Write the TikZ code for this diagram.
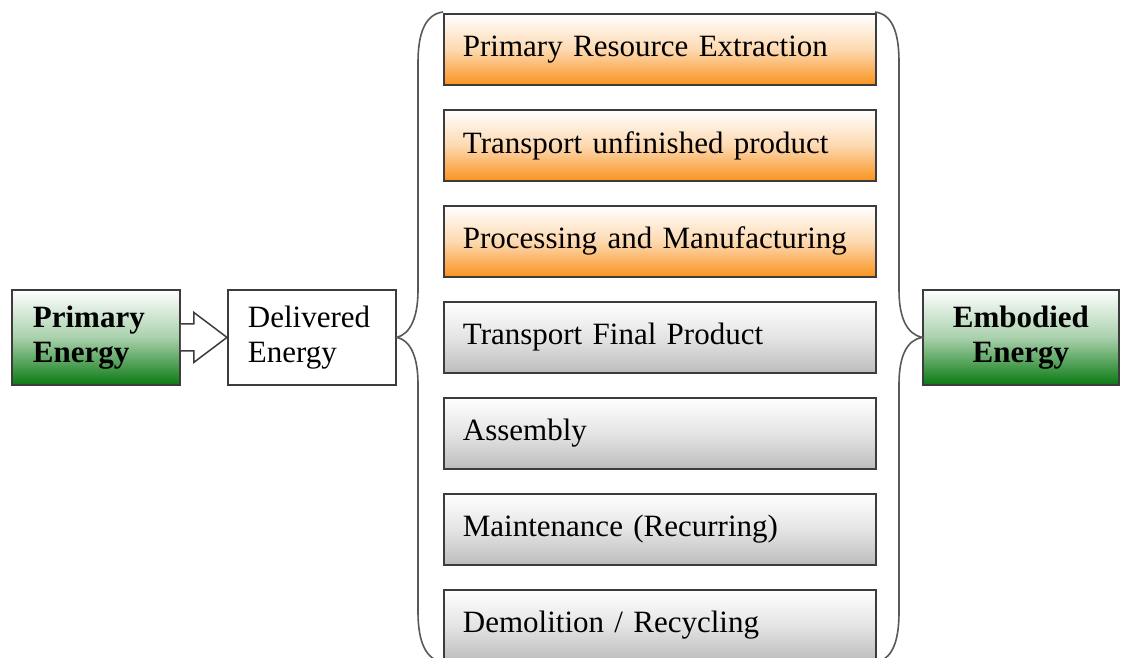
\documentclass[tikz,border=0pt]{standalone}
\usepackage{fontspec}
\setmainfont{Liberation Serif}
\usetikzlibrary{calc}
\definecolor{borderc}{HTML}{3C3C3C}
\definecolor{orangeb}{HTML}{F99320}
\definecolor{grayb}{HTML}{BCBCBC}
\definecolor{greenb}{HTML}{0A7A12}
\begin{document}
\begin{tikzpicture}[x=1pt,y=-1pt,
  every node/.style={font=\fontsize{31}{35}\selectfont},
  box/.style={draw=borderc, line width=1.8pt, anchor=north west, minimum width=432pt, minimum height=71pt,
     text width=394pt, align=left, inner xsep=19pt, inner ysep=0pt},
  orangebox/.style={box, top color=white, bottom color=orangeb, middle color=orangeb!35!white},
  graybox/.style={box, top color=white, bottom color=grayb, middle color=grayb!40!white},
  sidebox/.style={draw=borderc, line width=1.8pt, anchor=north west, minimum height=95pt, inner sep=0pt},
  greenbox/.style={sidebox, top color=white, bottom color=greenb, middle color=greenb!35!white},
  linec/.style={draw=borderc!85, line width=1.6pt},
  arrowc/.style={draw=borderc, line width=1.5pt, fill=white, line join=miter}
]
\clip (0,0) rectangle (1130,657);
\fill[white] (0,0) rectangle (1130,657);

% left boxes
\node[greenbox, minimum width=168pt, text width=168pt, align=left, inner xsep=0pt, font=\fontsize{31}{35}\selectfont\bfseries] (pe) at (11,289) {\hspace*{21pt}Primary\\\hspace*{21pt}Energy};
\node[sidebox, fill=white, minimum width=168pt, text width=168pt, align=left, inner xsep=0pt] (de) at (227,289) {\hspace*{20pt}Delivered\\\hspace*{20pt}Energy};
\node[greenbox, minimum width=196pt, text width=196pt, align=center, inner xsep=0pt, font=\fontsize{31}{35}\selectfont\bfseries] (ee) at (922,289) {Embodied\\Energy};

% stack of stages
\node[orangebox] (s1) at (443,13) {Primary Resource Extraction};
\node[orangebox] (s2) at (443,109) {Transport unfinished product};
\node[orangebox] (s3) at (443,205) {Processing and Manufacturing};
\node[graybox] (s4) at (443,301) {Transport Final Product};
\node[graybox] (s5) at (443,397) {Assembly};
\node[graybox] (s6) at (443,493) {Maintenance (Recurring)};
\node[graybox] (s7) at (443,589) {Demolition / Recycling};

% hollow arrow
\coordinate (a0) at ($(pe.east)+(0,-13.5)$);
\coordinate (a1) at ($(pe.east)+(13,-13.5)$);
\coordinate (a2) at ($(pe.east)+(13,-25)$);
\coordinate (a3) at (de.west);
\coordinate (a4) at ($(pe.east)+(13,25)$);
\coordinate (a5) at ($(pe.east)+(13,13.5)$);
\coordinate (a6) at ($(pe.east)+(0,13.5)$);
\draw[arrowc] (a0) -- (a1) -- (a2) -- (a3) -- (a4) -- (a5) -- (a6);

% left brace
\coordinate (lt) at (443,12);
\coordinate (ltip) at (de.east);
\coordinate (lb) at (443,662);
\draw[linec] (lt) .. controls (426,14) and (418,32) .. (418,62) -- (418,290)
  .. controls (418,318) and (410,334) .. (ltip)
  .. controls (410,340) and (418,356) .. (418,384) -- (418,612)
  .. controls (418,642) and (426,660) .. (lb);

% right brace
\coordinate (rt) at (875,12);
\coordinate (rtip) at (ee.west);
\coordinate (rb) at (875,662);
\draw[linec] (rt) .. controls (892,14) and (899,32) .. (899,62) -- (899,290)
  .. controls (899,318) and (907,334) .. (rtip)
  .. controls (907,340) and (899,356) .. (899,384) -- (899,612)
  .. controls (899,642) and (892,660) .. (rb);
\end{tikzpicture}
\end{document}
